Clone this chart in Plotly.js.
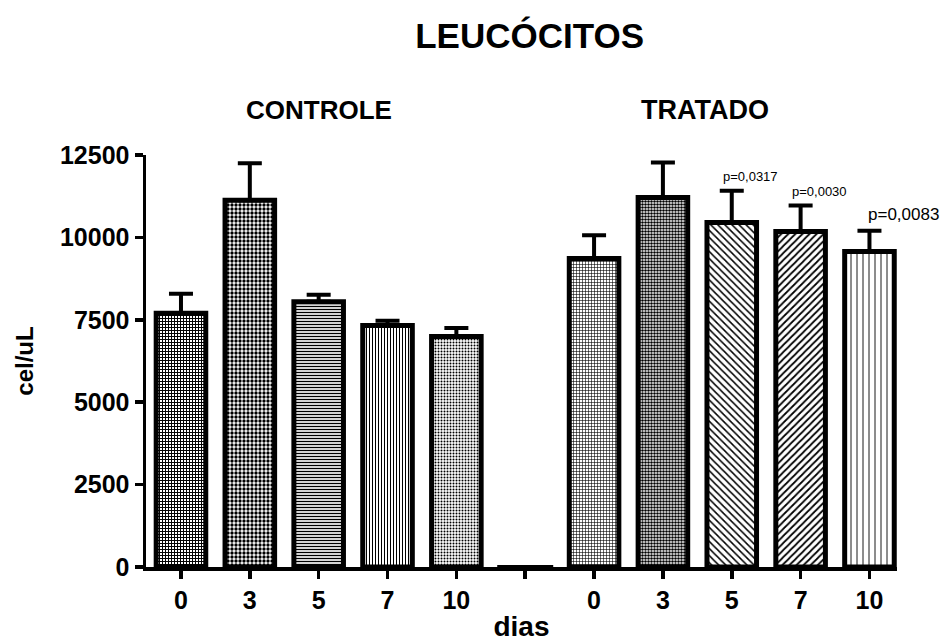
<!DOCTYPE html>
<html>
<head>
<meta charset="utf-8">
<script src="https://cdn.plot.ly/plotly-3.0.1.min.js"></script>
<style>
  html, body { margin: 0; padding: 0; background: #ffffff; }
  #grafico { width: 944px; height: 642px; }
</style>
</head>
<body>
<div id="grafico"></div>
<script>
// Leucócitos (cel/uL) por dia, média e erro padrão
const dias = ["0", "3", "5", "7", "10"];
const controleMedia = [7700, 11130, 8050, 7330, 6990];
const controleEpm = [590, 1120, 210, 140, 260];
const tratadoMedia = [9360, 11210, 10450, 10180, 9570];
const tratadoEpm = [705, 1060, 965, 785, 630];
const tratadoP = ["", "", "p=0,0317", "p=0,0030", "p=0,0083"];
const coluna_vazia = [0];
const yTicks = [0, 2500, 5000, 7500, 10000, 12500];
const yTickText = ["0", "2500", "5000", "7500", "10000", "12500"];

// column layout: 5 control columns, one empty column, 5 treated columns
const posControle = dias.map((d, i) => i);
const posVazia = dias.length;
const posTratado = dias.map((d, i) => dias.length + 1 + i);
const tickPos = posControle.concat([posVazia], posTratado);
const tickText = dias.concat([""], dias);

const FONT = "Arial, 'Liberation Sans', Helvetica, sans-serif";

function barra(pos, media, epm, shapes, sizes, solid) {
  return {
    type: "bar",
    x: pos,
    y: media,
    width: 0.72,
    marker: {
      color: "#ffffff",
      line: { color: "#000000", width: 5 },
      pattern: {
        shape: shapes,
        size: sizes,
        solidity: solid,
        fgcolor: "#000000",
        bgcolor: "#ffffff",
        fillmode: "replace"
      }
    },
    error_y: {
      type: "data",
      symmetric: false,
      array: epm,
      arrayminus: epm.map(() => 0),
      color: "#000000",
      thickness: 4,
      width: 12
    },
    hoverinfo: "skip",
    showlegend: false
  };
}

const traces = [
  barra(posControle, controleMedia, controleEpm,
        ["+", ".", "-", "|", "."],
        [3, 4, 3, 3, 3],
        [0.55, 0.55, 0.45, 0.35, 0.35]),
  barra(posTratado, tratadoMedia, tratadoEpm,
        ["+", ".", "\\", "/", "|"],
        [3, 3, 5, 5, 6],
        [0.35, 0.55, 0.3, 0.35, 0.15]),
  {
    type: "scatter",
    mode: "markers",
    x: [posVazia],
    y: coluna_vazia,
    marker: { symbol: "line-ew", size: 40, line: { color: "#000000", width: 4 } },
    cliponaxis: false,
    hoverinfo: "skip",
    showlegend: false
  }
];

const annotations = [
  {
    text: "CONTROLE", xref: "x", yref: "paper", x: posControle[2], y: 1,
    yshift: 45, showarrow: false, xanchor: "center", yanchor: "middle",
    font: { family: FONT, size: 26, weight: "bold", color: "#000000" }
  },
  {
    text: "TRATADO", xref: "x", yref: "paper", x: posTratado[2], y: 1,
    xshift: -27, yshift: 45, showarrow: false, xanchor: "center", yanchor: "middle",
    font: { family: FONT, size: 27, weight: "bold", color: "#000000" }
  }
];

const pShift = [0, 0, 19, 19, 34];
const pYShift = [0, 0, 14, 14, 16];
const pSize = [13, 13, 13, 13, 17];
tratadoP.forEach((t, i) => {
  if (!t) return;
  annotations.push({
    text: t, xref: "x", yref: "y",
    x: posTratado[i], y: tratadoMedia[i] + tratadoEpm[i],
    xshift: pShift[i], yshift: pYShift[i],
    showarrow: false, xanchor: "center", yanchor: "middle",
    font: { family: FONT, size: pSize[i], color: "#000000" }
  });
});

const layout = {
  width: 944,
  height: 642,
  paper_bgcolor: "#ffffff",
  plot_bgcolor: "#ffffff",
  margin: { l: 146, r: 47, t: 155, b: 75 },
  font: { family: FONT, color: "#000000" },
  title: {
    text: "LEUCÓCITOS",
    x: 0.561, xref: "container", xanchor: "center",
    y: 0.945, yref: "container", yanchor: "middle",
    font: { family: FONT, size: 35, weight: "bold", color: "#000000" }
  },
  xaxis: {
    range: [-0.508, 10.4],
    tickmode: "array",
    tickvals: tickPos,
    ticktext: tickText,
    ticks: "outside",
    ticklen: 8,
    tickwidth: 3.5,
    tickcolor: "#000000",
    showline: true,
    linewidth: 3.5,
    linecolor: "#000000",
    showgrid: false,
    zeroline: false,
    tickfont: { family: FONT, size: 25, weight: "bold", color: "#000000" },
    title: {
      text: "dias",
      standoff: 11,
      font: { family: FONT, size: 28, weight: "bold", color: "#000000" }
    }
  },
  yaxis: {
    range: [0, 12500],
    tickmode: "array",
    tickvals: yTicks,
    ticktext: yTickText,
    ticks: "outside",
    ticklen: 8,
    tickwidth: 3.5,
    tickcolor: "#000000",
    showline: true,
    linewidth: 3.5,
    linecolor: "#000000",
    showgrid: false,
    zeroline: false,
    tickfont: { family: FONT, size: 25, weight: "bold", color: "#000000" },
    title: {
      text: "cel/uL",
      standoff: 20,
      font: { family: FONT, size: 24, weight: "bold", color: "#000000" }
    }
  },
  bargap: 0,
  annotations: annotations
};

Plotly.newPlot("grafico", traces, layout, { displayModeBar: false, staticPlot: true });
</script>
</body>
</html>
